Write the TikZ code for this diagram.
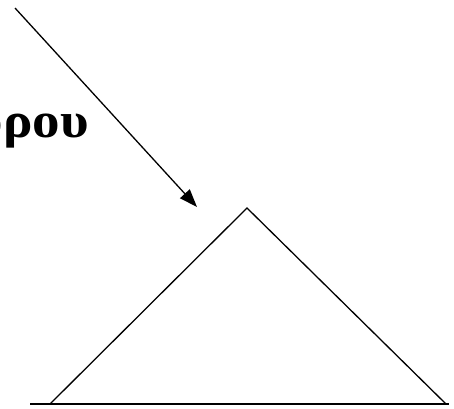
\documentclass[tikz,border=0pt]{standalone}
\usepackage{fontspec}
\setmainfont{Liberation Serif}
\usetikzlibrary{arrows.meta}
\begin{document}
\begin{tikzpicture}[x=1pt,y=-1pt,
  ln/.style={line width=1.3pt,black},
  arr/.style={ln,-{Triangle[length=18pt,width=13pt]}},
  lbl/.style={inner sep=0pt,xscale=1.1,font=\fontsize{50}{54}\selectfont\bfseries}]
\useasboundingbox (0,0) rectangle (454,408);
\node[lbl,anchor=base east] (t) at (89,137) {όρου};
\coordinate (s) at (15,8);
\coordinate (e) at (197,207);
\coordinate (apex) at (247,208);
\coordinate (bl) at (50,404);
\coordinate (br) at (446,404);
\coordinate (gl) at (30,404);
\coordinate (gr) at (449,404);
\draw[arr] (s) -- (e);
\draw[ln,line join=miter] (bl) -- (apex) -- (br);
\draw[ln] (gl) -- (gr);
\end{tikzpicture}
\end{document}
